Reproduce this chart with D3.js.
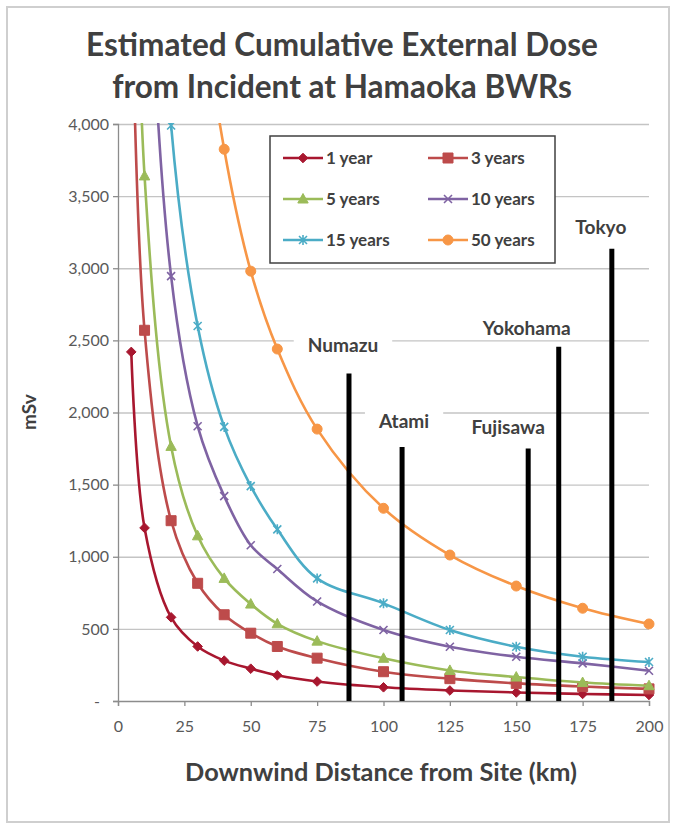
<!DOCTYPE html>
<html>
<head>
<meta charset="utf-8">
<script src="https://cdn.jsdelivr.net/npm/d3@7"></script>
<style>
  html, body { margin: 0; padding: 0; background: #fff; }
  svg { display: block; font-family: Lato, "Open Sans", "DejaVu Sans", sans-serif; }
</style>
</head>
<body>
<script>
// ---------------- DATA ----------------
const distances = [5, 10, 20, 30, 40, 50, 60, 75, 100, 125, 150, 175, 200];
const seriesNames = ["1 year", "3 years", "5 years", "10 years", "15 years", "50 years"];
const year1  = [2420, 1200, 580, 378, 280, 224, 178, 135, 95, 73, 59, 49, 42];
const year3  = [5180, 2570, 1250, 816, 598, 470, 378, 297, 203, 155, 122, 100, 84];
const year5  = [7330, 3640, 1765, 1145, 850, 672, 535, 415, 296, 212, 166, 128, 106];
const year10 = [12270, 6080, 2945, 1905, 1420, 1080, 915, 690, 492, 376, 307, 261, 210];
const year15 = [16700, 8300, 3990, 2600, 1900, 1490, 1190, 850, 677, 492, 376, 307, 270];
const year50 = [33000, 16500, 8000, 5150, 3825, 2980, 2440, 1885, 1336, 1012, 797, 643, 534];
const seriesValues = [year1, year3, year5, year10, year15, year50];

const cityNames = ["Numazu", "Atami", "Fujisawa", "Yokohama", "Tokyo"];
const cityDistances = [87, 107, 154.5, 166, 186];
const cityDoses = [2270, 1760, 1750, 2455, 3135];

const xTicks = [0, 25, 50, 75, 100, 125, 150, 175, 200];
const yTicks = [0, 500, 1000, 1500, 2000, 2500, 3000, 3500, 4000];

const titleLines = ["Estimated Cumulative External Dose", "from Incident at Hamaoka BWRs"];
const xTitle = "Downwind Distance from Site (km)";
const yTitle = "mSv";

// ---------------- STYLE ----------------
const seriesColors = ["#a8172f", "#bd4b4b", "#9bbb59", "#7f63a3", "#4bacc6", "#f79646"];
const seriesMarkers = ["diamond", "square", "triangle", "x", "star", "circle"];
const cityLabelDx = [-6, 2, -20, -32, -11];
const cityLabelDy = [-22, -19, -15, -12, -15];

const W = 673, H = 825;
const svg = d3.select("body").append("svg").attr("width", W).attr("height", H);

svg.append("rect").attr("x", 7).attr("y", 7).attr("width", 662).attr("height", 815)
  .attr("fill", "#fff").attr("stroke", "#cfcfcf").attr("stroke-width", 2);

const x = d3.scaleLinear().domain([0, 200]).range([118, 649]);
const y = d3.scaleLinear().domain([0, 4000]).range([701, 124]);

function fit(t, w) {
  t.style("font-size", "100px");
  const L = t.node().getComputedTextLength();
  t.style("font-size", (100 * w / L) + "px");
  return 100 * w / L;
}

// Title
const t1 = svg.append("text").attr("x", 342).attr("y", 56).attr("text-anchor", "middle")
  .attr("fill", "#404040").attr("font-weight", "bold").text(titleLines[0]);
fit(t1, 512);
const t2 = svg.append("text").attr("x", 342).attr("y", 98).attr("text-anchor", "middle")
  .attr("fill", "#404040").attr("font-weight", "bold").text(titleLines[1]);
fit(t2, 460);

// Gridlines
svg.append("g").selectAll("line").data(yTicks.filter(v => v > 0)).join("line")
  .attr("x1", x(0)).attr("x2", x(200))
  .attr("y1", d => y(d) + 0.5).attr("y2", d => y(d) + 0.5)
  .attr("stroke", "#c4c4c4").attr("stroke-width", 1.3);

// Axes
const xAxis = svg.append("g").attr("transform", `translate(0,${y(0)})`)
  .call(d3.axisBottom(x).tickValues(xTicks).tickSize(5).tickPadding(15).tickFormat(d3.format("d")));
const yAxis = svg.append("g").attr("transform", `translate(${x(0)},0)`)
  .call(d3.axisLeft(y).tickValues(yTicks).tickSize(5).tickPadding(4)
    .tickFormat(v => v === 0 ? "-" : d3.format(",")(v)));
[xAxis, yAxis].forEach(a => {
  a.select(".domain").attr("stroke", "#8c8c8c").attr("stroke-width", 1.3);
  a.selectAll(".tick line").attr("stroke", "#8c8c8c").attr("stroke-width", 1.3);
  a.selectAll("text").attr("fill", "#595959").style("font-size", "16px").style("font-family", "Lato, sans-serif");
});
yAxis.selectAll(".tick text").filter(d => d === 0).attr("dx", "-9px");

// Axis titles
const xt = svg.append("text").attr("x", 381).attr("y", 781).attr("text-anchor", "middle")
  .attr("fill", "#404040").attr("font-weight", "bold").text(xTitle);
fit(xt, 392);
svg.append("text").attr("transform", "translate(36,412) rotate(-90)").attr("text-anchor", "middle")
  .attr("fill", "#404040").attr("font-weight", "bold").style("font-size", "19px").text(yTitle);

// Clip
svg.append("clipPath").attr("id", "plotclip").append("rect")
  .attr("x", x(0)).attr("y", y(4000) - 1).attr("width", x(200) - x(0) + 10).attr("height", y(0) - y(4000) + 10);

// Markers
function markerPath(type) {
  switch (type) {
    case "diamond": return "M0,-4.8L4.8,0L0,4.8L-4.8,0Z";
    case "square": return "M-5,-5H5V5H-5Z";
    case "triangle": return "M0,-5.5L5.2,4L-5.2,4Z";
    case "x": return "M-4,-4L4,4M-4,4L4,-4";
    case "star": return "M-4,-4L4,4M-4,4L4,-4M0,-5L0,5";
    case "circle": return "M5,0A5,5 0 1,1 -5,0A5,5 0 1,1 5,0Z";
  }
}
function drawMarker(g, type, color) {
  const open = (type === "x" || type === "star");
  g.append("path").attr("d", markerPath(type))
    .attr("fill", open ? "none" : color)
    .attr("stroke", color).attr("stroke-width", open ? 1.6 : 1);
}

// Series
const line = d3.line().x(d => x(d[0])).y(d => y(d[1])).curve(d3.curveCatmullRom.alpha(0.5));
const plot = svg.append("g").attr("clip-path", "url(#plotclip)");
seriesValues.forEach((vals, i) => {
  const pts = distances.map((d, k) => [d, vals[k]]);
  plot.append("path").datum(pts).attr("d", line)
    .attr("fill", "none").attr("stroke", seriesColors[i]).attr("stroke-width", 2.6);
  pts.filter(p => p[1] <= 4000).forEach(p => {
    const g = plot.append("g").attr("transform", `translate(${x(p[0])},${y(p[1])})`);
    drawMarker(g, seriesMarkers[i], seriesColors[i]);
  });
});

// City label backing boxes (under the bars), then bars, then label text
const bgG = svg.append("g");
const barG = svg.append("g");
const labelG = svg.append("g");

barG.selectAll("line").data(cityNames).join("line")
  .attr("x1", (d, i) => x(cityDistances[i])).attr("x2", (d, i) => x(cityDistances[i]))
  .attr("y1", y(0)).attr("y2", (d, i) => y(cityDoses[i]))
  .attr("stroke", "#000").attr("stroke-width", 5);

const probe = labelG.append("text").text("Yokohama").attr("font-weight", "bold");
const labelSize = fit(probe, 88);
probe.remove();
cityNames.forEach((name, i) => {
  const cx = x(cityDistances[i]) + cityLabelDx[i];
  const cy = y(cityDoses[i]) + cityLabelDy[i];
  const t = labelG.append("text").attr("x", cx).attr("y", cy).attr("text-anchor", "middle")
    .attr("fill", "#404040").attr("font-weight", "bold").style("font-size", labelSize + "px").text(name);
  const w = t.node().getComputedTextLength();
  bgG.append("rect").attr("x", cx - w / 2 - 14).attr("y", cy - 17).attr("width", w + 28)
    .attr("height", 21).attr("fill", "#fff");
});

// Legend
const lg = svg.append("g");
lg.append("rect").attr("x", 270).attr("y", 136).attr("width", 285).attr("height", 127)
  .attr("fill", "#fff").attr("stroke", "#404040").attr("stroke-width", 1.5);
const legCols = [283, 428];
const legRows = [158, 199, 240];
seriesNames.forEach((name, i) => {
  const cx = legCols[i % 2], cy = legRows[Math.floor(i / 2)];
  lg.append("line").attr("x1", cx).attr("x2", cx + 40).attr("y1", cy).attr("y2", cy)
    .attr("stroke", seriesColors[i]).attr("stroke-width", 2.6);
  const g = lg.append("g").attr("transform", `translate(${cx + 20},${cy})`);
  drawMarker(g, seriesMarkers[i], seriesColors[i]);
  lg.append("text").attr("x", cx + 43).attr("y", cy + 6).attr("fill", "#404040")
    .attr("font-weight", "bold").style("font-size", "17px").text(name);
});
</script>
</body>
</html>
